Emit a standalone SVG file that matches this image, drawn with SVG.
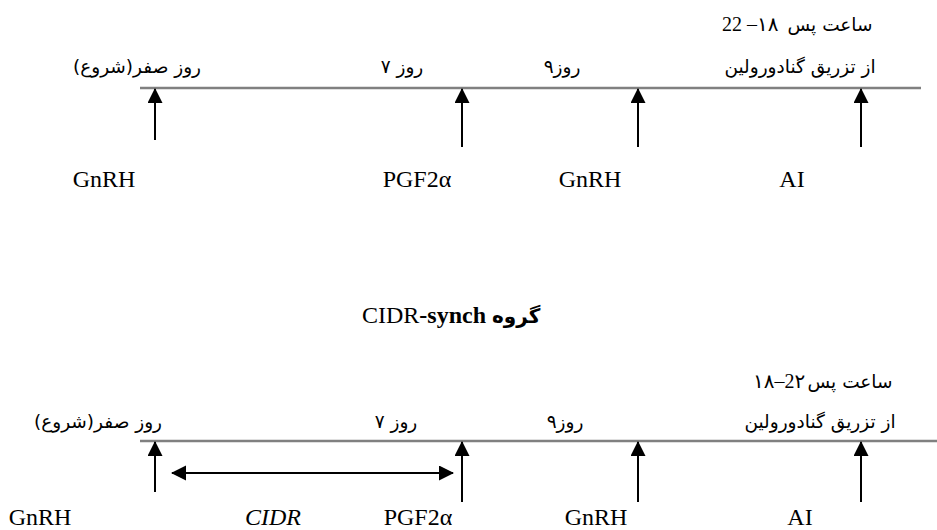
<svg xmlns="http://www.w3.org/2000/svg" width="937" height="530" viewBox="0 0 937 530">
<style>
.lat{font-family:"Liberation Serif","Times New Roman",serif;font-size:24px;fill:#000}
.fa{font-family:"DejaVu Sans","Noto Sans",sans-serif;font-size:18.5px;fill:#000}
.num{font-family:"Liberation Serif","DejaVu Sans",serif;font-size:20px;fill:#000}
.axis{stroke:#808080;stroke-width:2.6;fill:none}
.arr{stroke:#000;stroke-width:2;fill:none;marker-end:url(#ah)}
.dbl{stroke:#000;stroke-width:2;fill:none;marker-start:url(#ahs);marker-end:url(#ah)}
</style>
<defs>
<marker id="ah" markerUnits="userSpaceOnUse" markerWidth="16" markerHeight="16" refX="14" refY="7.5" orient="auto"><path d="M0,0 L15,7.5 L0,15 z" fill="#000"/></marker>
<marker id="ahs" markerUnits="userSpaceOnUse" markerWidth="16" markerHeight="16" refX="14" refY="7.5" orient="auto-start-reverse"><path d="M0,0 L15,7.5 L0,15 z" fill="#000"/></marker>
</defs>
<rect width="937" height="530" fill="#fff"/>

<g id="connectors">
<line class="axis" x1="140" y1="88" x2="921" y2="88"/>
<line class="arr" x1="155" y1="140" x2="155" y2="89"/>
<line class="arr" x1="462" y1="147" x2="462" y2="89"/>
<line class="arr" x1="638" y1="147" x2="638" y2="89"/>
<line class="arr" x1="861" y1="147" x2="861" y2="89"/>

<line class="axis" x1="140" y1="441" x2="937" y2="441"/>
<line class="arr" x1="155" y1="492" x2="155" y2="442"/>
<line class="arr" x1="462" y1="502" x2="462" y2="442"/>
<line class="arr" x1="638" y1="502" x2="638" y2="442"/>
<line class="arr" x1="861" y1="502" x2="861" y2="442"/>
<line class="dbl" x1="172" y1="473" x2="453" y2="473"/>
</g>

<g id="top-day0"><text class="fa" x="137" y="73" text-anchor="middle" direction="rtl">روز صفر(شروع)</text></g>
<g id="top-day7"><text class="fa" x="402" y="73" text-anchor="middle" direction="rtl">روز ۷</text></g>
<g id="top-day9"><text class="fa" x="562" y="73" text-anchor="middle" direction="rtl">روز۹</text></g>
<g id="top-ai-time">
<text class="num" x="722" y="31" direction="ltr" unicode-bidi="bidi-override">22 –۱۸</text>
<text class="fa" x="830" y="31" text-anchor="middle" direction="rtl">ساعت پس</text>
<text class="fa" x="800" y="73" text-anchor="middle" direction="rtl">از تزریق  گنادورولین</text>
</g>
<g id="top-gnrh1"><text class="lat" x="104" y="187" text-anchor="middle">GnRH</text></g>
<g id="top-pgf"><text class="lat" x="417" y="187" text-anchor="middle">PGF2α</text></g>
<g id="top-gnrh2"><text class="lat" x="590" y="187" text-anchor="middle">GnRH</text></g>
<g id="top-ai"><text class="lat" x="792" y="187" text-anchor="middle">AI</text></g>

<g id="title"><text class="lat" x="362" y="323">CIDR<tspan font-weight="bold">-synch </tspan><tspan font-family="DejaVu Sans, sans-serif" font-weight="bold" font-size="20">گروه</tspan></text></g>

<g id="bot-day0"><text class="fa" x="98" y="428" text-anchor="middle" direction="rtl">روز صفر(شروع)</text></g>
<g id="bot-day7"><text class="fa" x="396" y="428" text-anchor="middle" direction="rtl">روز ۷</text></g>
<g id="bot-day9"><text class="fa" x="565" y="428" text-anchor="middle" direction="rtl">روز۹</text></g>
<g id="bot-ai-time">
<text class="num" x="753" y="388" direction="ltr" unicode-bidi="bidi-override">۱۸–2۲</text>
<text class="fa" x="850" y="388" text-anchor="middle" direction="rtl">ساعت پس</text>
<text class="fa" x="820" y="428" text-anchor="middle" direction="rtl">از تزریق  گنادورولین</text>
</g>
<g id="bot-gnrh1"><text class="lat" x="40" y="525" text-anchor="middle">GnRH</text></g>
<g id="bot-cidr"><text class="lat" x="273" y="525" text-anchor="middle" font-style="italic">CIDR</text></g>
<g id="bot-pgf"><text class="lat" x="418" y="525" text-anchor="middle">PGF2α</text></g>
<g id="bot-gnrh2"><text class="lat" x="596" y="525" text-anchor="middle">GnRH</text></g>
<g id="bot-ai"><text class="lat" x="800" y="525" text-anchor="middle">AI</text></g>
</svg>
